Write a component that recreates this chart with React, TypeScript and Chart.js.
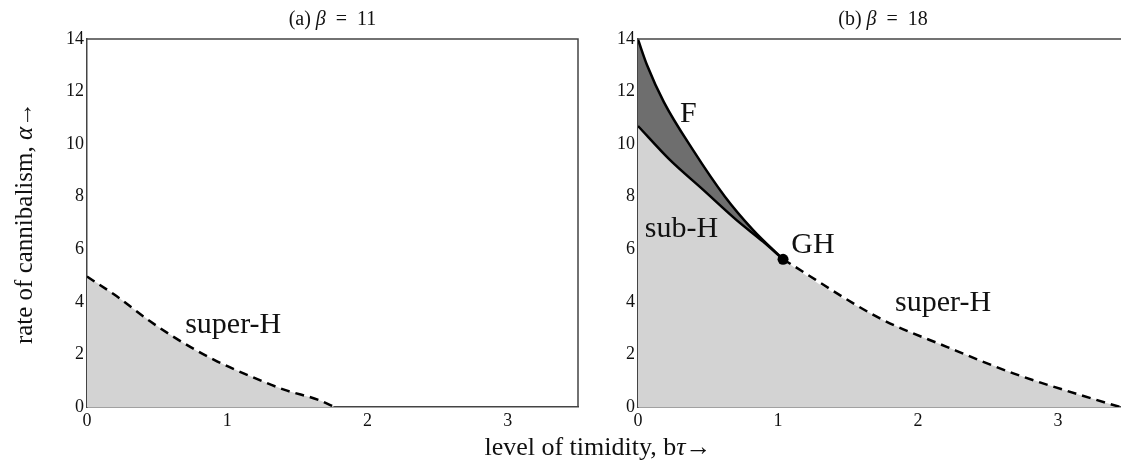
import React, { useEffect, useRef } from "react";
import { Chart, registerables } from "chart.js";

Chart.register(...registerables);

// ---------- data ----------
const xTicks = [0, 1, 2, 3];
const yTicks = [0, 2, 4, 6, 8, 10, 12, 14];

// panel (a) beta = 11 : super-critical Hopf boundary
const aSuperHX = [0, 0.21, 0.45, 0.69, 0.93, 1.17, 1.41, 1.65, 1.765];
const aSuperHY = [4.96, 4.22, 3.26, 2.43, 1.73, 1.16, 0.65, 0.27, 0];

// panel (b) beta = 18
const bFX = [0, 0.065, 0.185, 0.39, 0.62, 0.821, 1.036];
const bFY = [13.98, 13.0, 11.6, 9.8, 8.01, 6.74, 5.62];
const bSubHX = [0, 0.226, 0.464, 0.702, 0.893, 1.036];
const bSubHY = [10.69, 9.41, 8.27, 7.12, 6.29, 5.62];
const bSuperHX = [1.036, 1.729, 2.205, 2.681, 3.157, 3.443];
const bSuperHY = [5.62, 3.37, 2.29, 1.28, 0.46, 0];
const ghX = [1.036];
const ghY = [5.62];

// region labels (left x, baseline y in data units)
const aLabelText = ["super-H"];
const aLabelX = [0.7];
const aLabelY = [2.82];
const bLabelText = ["F", "sub-H", "GH", "super-H"];
const bLabelX = [0.3, 0.048, 1.095, 1.836];
const bLabelY = [10.84, 6.48, 5.87, 3.64];

const SERIF = "'Liberation Serif', 'Times New Roman', serif";
const LIGHT = "#d3d3d3";
const DARK = "#6e6e6e";
const AXIS = "#444";

type Seg = { t: string; italic?: boolean };

const pts = (xs: number[], ys: number[]) => xs.map((x, i) => ({ x, y: ys[i] }));

function drawRich(ctx: CanvasRenderingContext2D, segs: Seg[], x: number, y: number, size: number, rotate = 0) {
  ctx.save();
  ctx.translate(x, y);
  if (rotate) ctx.rotate(rotate);
  const fonts = segs.map((s) => `${s.italic ? "italic " : ""}${size}px ${SERIF}`);
  let total = 0;
  const widths = segs.map((s, i) => {
    ctx.font = fonts[i];
    const w = ctx.measureText(s.t).width;
    total += w;
    return w;
  });
  let cx = -total / 2;
  ctx.textBaseline = "middle";
  ctx.textAlign = "left";
  ctx.fillStyle = "#111";
  segs.forEach((s, i) => {
    ctx.font = fonts[i];
    ctx.fillText(s.t, cx, 0);
    cx += widths[i];
  });
  ctx.restore();
}

type PanelOpts = {
  title: Seg[];
  yTitle: Seg[] | null;
  yAxisWidth: number;
  rightBorder: boolean;
  labels: { t: string; x: number; y: number }[];
};

function makeChart(canvas: HTMLCanvasElement, datasets: any[], p: PanelOpts) {
  const decor = {
    id: "decor",
    afterDatasetsDraw(chart: any) {
      const { ctx, scales } = chart;
      ctx.save();
      ctx.fillStyle = "#111";
      ctx.font = `30px ${SERIF}`;
      ctx.textAlign = "left";
      ctx.textBaseline = "alphabetic";
      p.labels.forEach((l) => {
        ctx.fillText(l.t, scales.x.getPixelForValue(l.x), scales.y.getPixelForValue(l.y));
      });
      ctx.restore();
    },
    afterDraw(chart: any) {
      const { ctx, chartArea } = chart;
      ctx.save();
      ctx.strokeStyle = AXIS;
      ctx.lineWidth = 1.5;
      ctx.beginPath();
      ctx.moveTo(chartArea.left, chartArea.top);
      ctx.lineTo(chartArea.right, chartArea.top);
      if (p.rightBorder) ctx.lineTo(chartArea.right, chartArea.bottom);
      ctx.stroke();
      ctx.restore();
      drawRich(ctx, p.title, (chartArea.left + chartArea.right) / 2, 20, 20);
      if (p.yTitle) {
        drawRich(ctx, p.yTitle, 25, (chartArea.top + chartArea.bottom) / 2, 25, -Math.PI / 2);
      }
    },
  };

  return new Chart(canvas, {
    type: "line",
    data: { datasets },
    options: {
      animation: false,
      responsive: false,
      events: [],
      layout: { padding: { top: 39, right: 22, left: 0, bottom: 0 } },
      plugins: {
        legend: { display: false },
        tooltip: { enabled: false },
        title: { display: false },
        filler: { propagate: false, drawTime: "beforeDatasetsDraw" },
      } as any,
      scales: {
        x: {
          type: "linear",
          min: 0,
          max: 3.5,
          afterBuildTicks: (s: any) => {
            s.ticks = xTicks.map((v) => ({ value: v }));
          },
          afterFit: (s: any) => {
            s.height = 55;
          },
          grid: { display: false, drawTicks: false },
          border: { display: true, color: AXIS, width: 1.5 },
          ticks: { font: { family: SERIF, size: 18 }, color: "#111", padding: 3, maxRotation: 0 },
        },
        y: {
          type: "linear",
          min: 0,
          max: 14,
          afterBuildTicks: (s: any) => {
            s.ticks = yTicks.map((v) => ({ value: v }));
          },
          afterFit: (s: any) => {
            s.width = p.yAxisWidth;
          },
          grid: { display: false, drawTicks: false },
          border: { display: true, color: AXIS, width: 1.5 },
          ticks: { font: { family: SERIF, size: 18 }, color: "#111", padding: 3 },
        },
      },
    } as any,
    plugins: [decor],
  });
}

const lineBase = {
  borderColor: "#000",
  borderWidth: 2.5,
  pointRadius: 0,
  cubicInterpolationMode: "monotone",
  fill: false,
};

export default function App() {
  const leftRef = useRef<HTMLCanvasElement | null>(null);
  const rightRef = useRef<HTMLCanvasElement | null>(null);

  useEffect(() => {
    const left = makeChart(
      leftRef.current!,
      [
        {
          ...lineBase,
          label: "super-H",
          data: pts(aSuperHX, aSuperHY),
          borderDash: [9, 6],
          fill: "origin",
          backgroundColor: LIGHT,
        },
      ],
      {
        title: [{ t: "(a) " }, { t: "β", italic: true }, { t: "\u2002=\u200211" }],
        yTitle: [{ t: "rate of cannibalism, " }, { t: "α", italic: true }, { t: "→" }],
        yAxisWidth: 87,
        rightBorder: true,
        labels: aLabelText.map((t, i) => ({ t, x: aLabelX[i], y: aLabelY[i] })),
      }
    );

    const lower = [...pts(bSubHX, bSubHY), ...pts(bSuperHX, bSuperHY).slice(1)];
    const right = makeChart(
      rightRef.current!,
      [
        { ...lineBase, label: "F", data: pts(bFX, bFY), fill: { target: 1 }, backgroundColor: DARK },
        { ...lineBase, label: "sub-H", data: pts(bSubHX, bSubHY) },
        { ...lineBase, label: "super-H", data: pts(bSuperHX, bSuperHY), borderDash: [9, 6] },
        {
          label: "GH",
          data: pts(ghX, ghY),
          showLine: false,
          pointRadius: 5.5,
          pointBackgroundColor: "#000",
          pointBorderColor: "#000",
          pointBorderWidth: 0,
        },
        {
          ...lineBase,
          label: "stable-region",
          data: lower,
          borderWidth: 0,
          borderColor: "rgba(0,0,0,0)",
          fill: "origin",
          backgroundColor: LIGHT,
        },
      ],
      {
        title: [{ t: "(b) " }, { t: "β", italic: true }, { t: "\u2002=\u200218" }],
        yTitle: null,
        yAxisWidth: 38,
        rightBorder: false,
        labels: bLabelText.map((t, i) => ({ t, x: bLabelX[i], y: bLabelY[i] })),
      }
    );

    return () => {
      left.destroy();
      right.destroy();
    };
  }, []);

  return (
    <div
      style={{
        position: "fixed",
        left: 0,
        top: 0,
        width: 1121,
        height: 462,
        overflow: "hidden",
        background: "#fff",
      }}
    >
      <canvas ref={leftRef} width={600} height={462} style={{ position: "absolute", left: 0, top: 0 }} />
      <canvas ref={rightRef} width={550} height={462} style={{ position: "absolute", left: 600, top: 0 }} />
      <div
        style={{
          position: "absolute",
          left: 298,
          top: 432,
          width: 600,
          textAlign: "center",
          fontFamily: SERIF,
          fontSize: 26,
          lineHeight: "30px",
          color: "#111",
          whiteSpace: "nowrap",
        }}
      >
        level of timidity, b<i>τ</i>→
      </div>
    </div>
  );
}
